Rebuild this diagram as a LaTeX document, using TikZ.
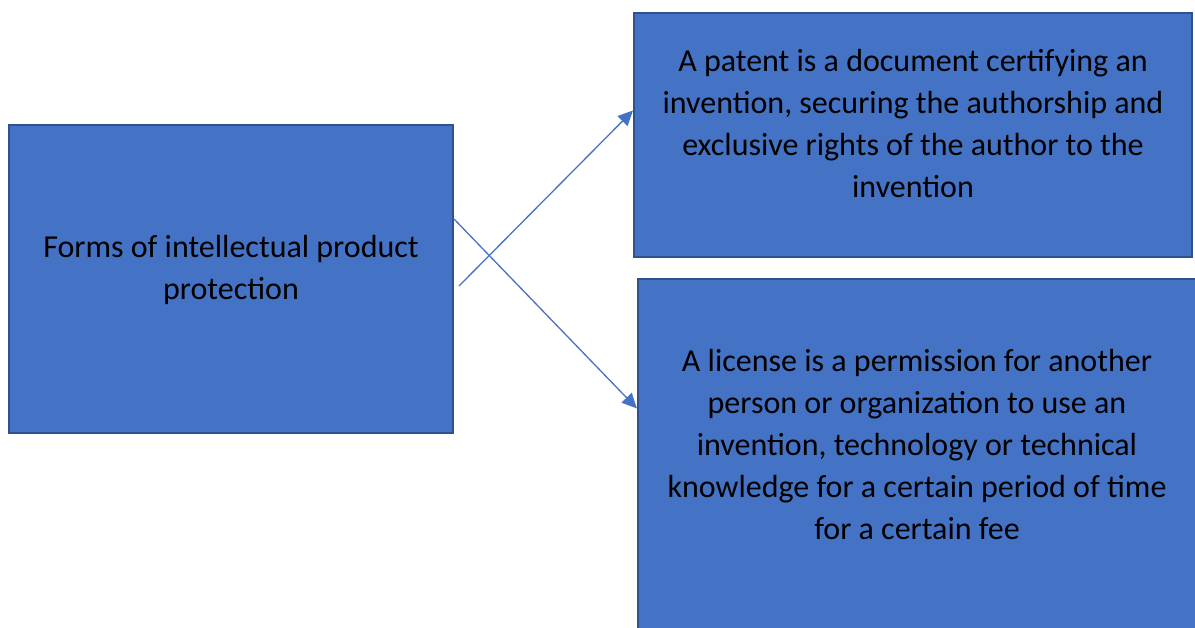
\documentclass[tikz,border=0pt]{standalone}
\usepackage{fontspec}
\setmainfont{Carlito}
\usetikzlibrary{arrows.meta}
\definecolor{boxblue}{HTML}{4472C4}
\definecolor{edgeblue}{HTML}{2F528F}
\tikzset{
  box/.style={draw=edgeblue,fill=boxblue,line width=2pt,inner sep=0pt},
  boxtext/.style={align=center,inner sep=0pt,anchor=north,
    font={\fontsize{32}{42}\selectfont}},
  link/.style={draw=boxblue,line width=1.3pt,-{Triangle[length=15pt,width=14pt]}}
}
\begin{document}
\begin{tikzpicture}[x=1pt,y=1pt]
                \useasboundingbox (0,0) rectangle (1195,-628);
                \clip (0,0) rectangle (1195,-628);
                % Boxes
                \node[box,minimum width=444,minimum height=308]
                (forms) at (231,-279) {};
                \node[box,minimum width=558,minimum height=244]
                (patent) at (913,-135.5) {};
                \node[box,minimum width=558,minimum height=361]
                (license) at (917,-459.5) {};
                % Texts
                \node[boxtext] (formstext) at (231,-235)
                {Forms of intellectual product\\protection};
                \node[boxtext] (patenttext) at (913,-49.5)
                {A patent is a document certifying an\\
                invention, securing the authorship and\\
                exclusive rights of the author to the\\
                invention};
                \node[boxtext] (licensetext) at (917,-349.5)
                {A license is a permission for another\\
                person or organization to use an\\
                invention, technology or technical\\
                knowledge for a certain period of time\\
                for a certain fee};
                % Arrows
                \draw[link] ([shift={(5,-7)}]forms.east)
                -- ([shift={(0,25)}]patent.west);
                \draw[link] ([shift={(0,60)}]forms.east)
                -- ([shift={(0,51)}]license.west);
                
            \end{tikzpicture}
\end{document}
